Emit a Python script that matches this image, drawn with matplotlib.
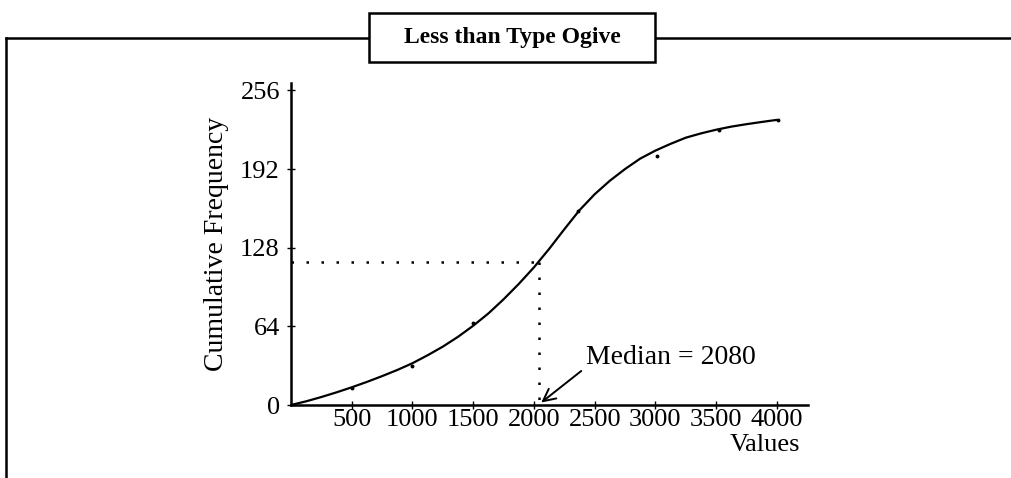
import matplotlib
matplotlib.use("Agg")
import matplotlib.pyplot as plt
from matplotlib.lines import Line2D
from matplotlib.patches import Rectangle

plt.rcParams['font.family'] = ['Liberation Serif', 'DejaVu Serif']

# ogive curve
values = [0, 125, 250, 375, 500, 625, 750, 875, 1000, 1125, 1250, 1375,
          1500, 1625, 1750, 1875, 2000, 2125, 2250, 2375, 2500, 2625,
          2750, 2875, 3000, 3125, 3250, 3375, 3500, 3625, 3750, 3875, 4000]
cum_freq = [0, 3, 6.5, 10.3, 14.4, 18.8, 23.5, 28.5, 34, 40.5, 47.5, 55.5,
            64.5, 74.5, 86, 98.5, 112, 127, 143, 158.5, 171.5, 182.5,
            192, 200.5, 207, 212.5, 217.5, 221, 224, 226.5, 228.5, 230.3, 232]

# small plotted points
point_x = [500, 1000, 1500, 2360, 3010, 3525, 4010]
point_y = [14, 31.5, 66.5, 158, 203, 223.5, 232.3]

x_ticks = [500, 1000, 1500, 2000, 2500, 3000, 3500, 4000]
y_ticks = [0, 64, 128, 192, 256]

half_n = 116
median_line_x = 2040
median_label = "Median = 2080"

W, H = 1011, 478
fig = plt.figure(figsize=(W / 100, H / 100), dpi=100)
ax = fig.add_axes([291 / W, 73 / H, 517 / W, 322 / H])

ax.plot(values, cum_freq, color='black', lw=1.6, solid_capstyle='round')
ax.plot(point_x, point_y, ls='none', marker='o', ms=1.8, color='black')

# median guide lines
ax.plot([0, median_line_x], [half_n, half_n], color='black', lw=1.8,
        ls=(0, (1, 5)))
ax.plot([median_line_x, median_line_x], [half_n, 0], color='black', lw=1.8,
        ls=(0, (1, 5)))

ax.annotate(median_label, xy=(2060, 2), xytext=(2430, 39),
            fontsize=20, ha='left', va='center',
            arrowprops=dict(arrowstyle='->', color='black', lw=1.4,
                            relpos=(0, 0.1), shrinkA=2, shrinkB=0,
                            mutation_scale=22))

ax.set_xlim(0, 4256)
ax.set_ylim(0, 262)
ax.set_xticks(x_ticks)
ax.set_yticks(y_ticks)
for s in ['top', 'right']:
    ax.spines[s].set_visible(False)
for s in ['left', 'bottom']:
    ax.spines[s].set_linewidth(1.8)
ax.tick_params(direction='inout', length=6, width=1, labelsize=19)
ax.tick_params(axis='y', pad=5)
ax.tick_params(axis='x', pad=0)

ax.set_ylabel("Cumulative Frequency", fontsize=20, labelpad=8)
fig.text(800 / W, 1 - 445 / H, "Values", fontsize=19,
         ha='right', va='center')

# outer frame with boxed title
frame_y = 1 - 37.5 / H
fig.add_artist(Line2D([6 / W, 1], [frame_y, frame_y],
                      color='black', lw=1.8, transform=fig.transFigure))
fig.add_artist(Line2D([6 / W, 6 / W], [frame_y, 0],
                      color='black', lw=1.8, transform=fig.transFigure))
fig.add_artist(Rectangle((369 / W, 1 - 62 / H), 286 / W, 49 / H,
                         transform=fig.transFigure, fc='white', ec='black',
                         lw=1.8, zorder=5))
fig.text(512 / W, frame_y, "Less than Type Ogive", fontsize=17,
         fontweight='bold', ha='center', va='center', zorder=6)

fig.savefig("out.png", dpi=100)
